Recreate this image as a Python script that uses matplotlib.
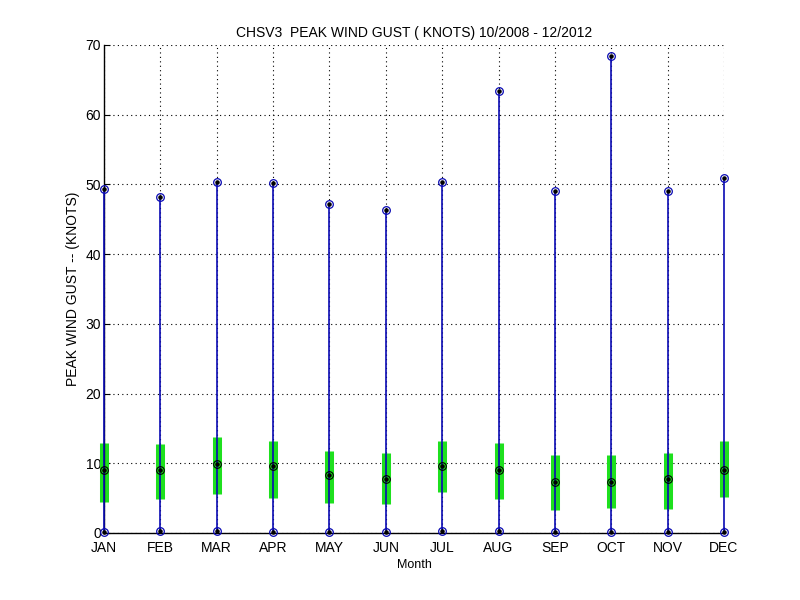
import numpy as np
import matplotlib
matplotlib.use('Agg')
import matplotlib.pyplot as plt

plt.rcParams['font.family'] = ['Liberation Sans', 'DejaVu Sans']

months = ['JAN', 'FEB', 'MAR', 'APR', 'MAY', 'JUN',
          'JUL', 'AUG', 'SEP', 'OCT', 'NOV', 'DEC']
gust_min = [0.1, 0.3, 0.3, 0.1, 0.1, 0.1, 0.3, 0.3, 0.1, 0.1, 0.1, 0.1]
gust_max = [49.3, 48.2, 50.3, 50.2, 47.2, 46.4, 50.3, 63.4, 49.1, 68.4, 49.0, 50.9]
gust_q1 = [4.5, 4.9, 5.6, 5.0, 4.35, 4.2, 5.9, 4.9, 3.35, 3.6, 3.4, 5.1]
gust_q3 = [12.9, 12.8, 13.7, 13.2, 11.8, 11.5, 13.2, 12.9, 11.2, 11.2, 11.5, 13.2]
gust_med = [9.0, 9.1, 9.95, 9.6, 8.3, 7.7, 9.55, 9.0, 7.3, 7.3, 7.7, 9.1]

x = np.arange(1, len(months) + 1)

fig = plt.figure(figsize=(8, 6), dpi=100)
ax = fig.add_axes([0.13, 0.1117, 0.775, 0.8133])

blue = '#0a0ab4'
green = '#1ee01e'

# interquartile bars
bars = ax.vlines(x, gust_q1, gust_q3, colors=green, linewidth=6.5, zorder=2)
bars.set_clip_on(False)
# full range
rng = ax.vlines(x, gust_min, gust_max, colors=blue, linewidth=1.2, zorder=3)
rng.set_clip_on(False)

# min / max markers
for vals in (gust_min, gust_max):
    ax.plot(x, vals, 'o', mfc='none', mec=blue, ms=5.5, mew=0.9, zorder=4,
            clip_on=False)
    ax.plot(x, vals, '.', color='k', ms=4.5, zorder=5, clip_on=False)
# median
ax.plot(x, gust_med, 'o', mfc='none', mec='k', ms=5.5, mew=0.8, zorder=4,
        clip_on=False)
ax.plot(x, gust_med, '.', color='k', ms=4.5, zorder=5, clip_on=False)

ax.set_xlim(1, 12)
ax.set_ylim(0, 70)
ax.set_xticks(x)
ax.set_xticklabels(months)
ax.set_yticks(np.arange(0, 71, 10))
ax.grid(True, linestyle=(0, (1, 3)), color='k', linewidth=0.8)
ax.set_axisbelow(True)
for side in ('top', 'right'):
    ax.spines[side].set_visible(False)
for side in ('left', 'bottom'):
    ax.spines[side].set_linewidth(1.0)
ax.tick_params(direction='in', length=4, labelsize=10, pad=2)
ax.tick_params(axis='x', pad=6)

ax.set_title('CHSV3  PEAK WIND GUST ( KNOTS) 10/2008 - 12/2012', fontsize=10)
ax.set_xlabel('Month', fontsize=9, labelpad=3)
ax.set_ylabel('PEAK WIND GUST -- (KNOTS)', fontsize=10, labelpad=4)

fig.savefig('out.png', dpi=100)
